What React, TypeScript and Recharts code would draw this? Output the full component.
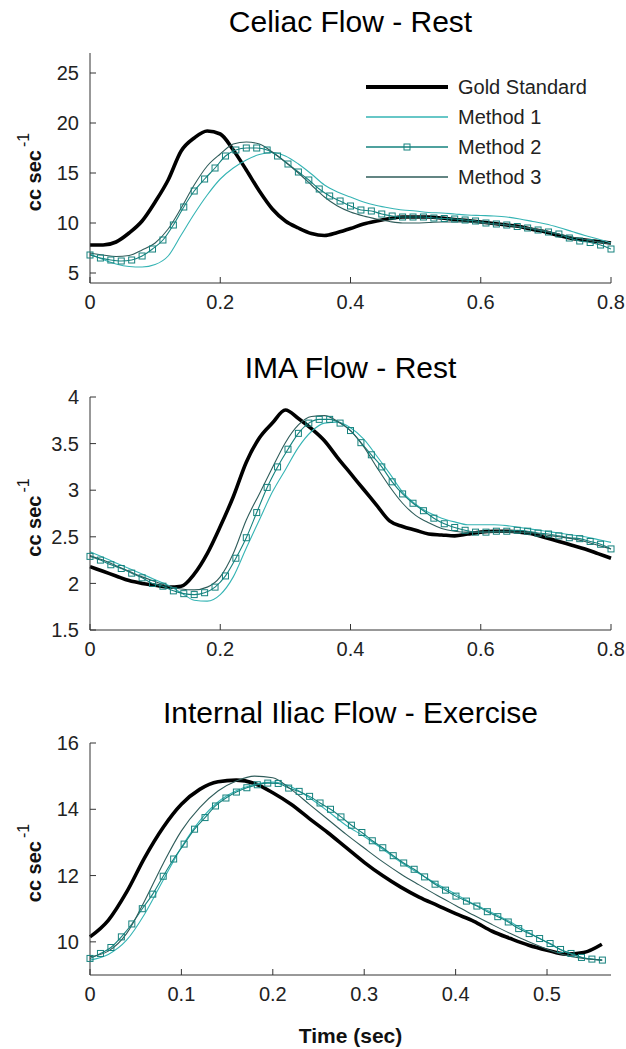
import { LineChart, Line, XAxis, YAxis, Legend, Label } from "recharts";

const FONT = '"Liberation Sans", Arial, Helvetica, sans-serif';

// evenly sampled time base (sec)
const sampleTimes = (count: number, step: number) =>
  Array.from({ length: count }, (_, i) => Math.round(i * step * 100000) / 100000);

const seriesNames = ["Gold Standard", "Method 1", "Method 2", "Method 3"];

// ---- Celiac flow, rest ----
const celiacLineT = sampleTimes(41, 0.02);
const celiacMarkT = sampleTimes(51, 0.016);
const celiacGold = [
  7.8, 7.8, 8.1, 9.0, 10.2, 12.1, 14.3, 17.2, 18.5, 19.2, 18.9, 17.3, 15.3, 13.2, 11.4, 10.2, 9.5, 8.95, 8.75,
  9.05, 9.45, 9.9, 10.2, 10.45, 10.6, 10.6, 10.6, 10.5, 10.35, 10.25, 10.1, 9.95, 9.8, 9.65, 9.35, 9.1, 8.75,
  8.45, 8.3, 8.15, 8.0,
];
const celiacM1 = [
  6.9, 6.35, 5.9, 5.65, 5.6, 5.85, 6.7, 8.8, 10.9, 12.8, 14.4, 15.5, 16.3, 16.85, 17.05, 16.7, 15.9, 14.9, 13.8,
  13.1, 12.6, 12.1, 11.75, 11.5, 11.3, 11.2, 11.05, 11.0, 10.9, 10.8, 10.75, 10.7, 10.6, 10.4, 10.15, 9.9, 9.55,
  9.15, 8.75, 8.4, 8.0,
];
const celiacM2 = [
  6.8, 6.5, 6.3, 6.2, 6.3, 6.7, 7.4, 8.3, 9.8, 11.6, 13.2, 14.4, 15.5, 16.7, 17.3, 17.5, 17.5, 17.3, 16.7, 15.9,
  15.1, 14.3, 13.4, 12.7, 12.2, 11.7, 11.3, 11.2, 10.9, 10.7, 10.6, 10.6, 10.6, 10.5, 10.45, 10.4, 10.3, 10.2,
  10.0, 9.9, 9.8, 9.65, 9.5, 9.3, 9.1, 8.9, 8.5, 8.2, 8.05, 7.8, 7.4,
];
const celiacM3 = [
  7.0, 6.8, 6.65, 6.75, 7.3, 8.0, 9.4, 11.5, 13.8, 15.7, 16.9, 17.9, 18.1, 17.9, 17.1, 16.1, 15.0, 13.8, 12.6,
  11.7, 11.1, 10.7, 10.4, 10.15, 10.0, 10.0, 10.05, 10.1, 10.1, 10.1, 10.0, 9.9, 9.8, 9.6, 9.45, 9.2, 8.9, 8.6,
  8.35, 8.1, 7.9,
];

// ---- IMA flow, rest ----
const imaLineT = sampleTimes(41, 0.02);
const imaMarkT = sampleTimes(51, 0.016);
const imaGold = [
  2.18, 2.13, 2.08, 2.03, 2.0, 1.98, 1.96, 1.97, 2.1, 2.32, 2.61, 2.93, 3.3, 3.56, 3.72, 3.86, 3.77, 3.66, 3.53,
  3.35, 3.18, 3.01, 2.84, 2.67, 2.61, 2.57, 2.53, 2.52, 2.51, 2.53, 2.55, 2.56, 2.56, 2.55, 2.53, 2.49, 2.45,
  2.41, 2.37, 2.32, 2.27,
];
const imaM1 = [
  2.34, 2.28, 2.22, 2.16, 2.1, 2.04, 1.98, 1.9, 1.82, 1.81, 1.88, 2.07, 2.38, 2.68, 2.98, 3.22, 3.46, 3.63, 3.72,
  3.73, 3.67, 3.55, 3.37, 3.18, 2.98, 2.85, 2.76, 2.7, 2.66, 2.63, 2.63, 2.63, 2.62, 2.6, 2.58, 2.56, 2.54, 2.52,
  2.5, 2.47, 2.44,
];
const imaM2 = [
  2.29, 2.25, 2.2, 2.16, 2.11, 2.06, 2.0, 1.97, 1.92, 1.89, 1.88, 1.9, 1.96, 2.08, 2.27, 2.49, 2.76, 3.03, 3.25,
  3.44, 3.61, 3.72, 3.76, 3.76, 3.72, 3.64, 3.51, 3.38, 3.25, 3.09, 2.96, 2.86, 2.78, 2.7, 2.64, 2.6, 2.57, 2.55,
  2.55, 2.56, 2.56, 2.57, 2.56, 2.54, 2.53, 2.51, 2.49, 2.48, 2.45, 2.42, 2.37,
];
const imaM3 = [
  2.3, 2.25, 2.19, 2.13, 2.07, 2.02, 1.97, 1.94, 1.93, 1.96, 2.07, 2.32, 2.68, 2.96, 3.24, 3.51, 3.7, 3.79, 3.8,
  3.74, 3.64, 3.47, 3.25, 3.04, 2.86, 2.73, 2.65, 2.59, 2.56, 2.55, 2.55, 2.55, 2.55, 2.55, 2.54, 2.52, 2.5, 2.48,
  2.45, 2.41, 2.37,
];

// ---- Internal iliac flow, exercise ----
const iliacLineT = sampleTimes(29, 0.02);
const iliacMarkT = sampleTimes(50, 0.01144);
const iliacGold = [
  10.15, 10.65, 11.5, 12.55, 13.45, 14.15, 14.6, 14.83, 14.88, 14.78, 14.5, 14.15, 13.72, 13.3, 12.85, 12.4, 12.0,
  11.65, 11.35, 11.1, 10.85, 10.62, 10.32, 10.1, 9.9, 9.75, 9.63, 9.68, 9.93,
];
const iliacM1 = [
  9.45, 9.62, 10.05, 10.85, 11.86, 12.85, 13.65, 14.22, 14.56, 14.75, 14.82, 14.68, 14.35, 13.95, 13.52, 13.18,
  12.8, 12.4, 12.06, 11.74, 11.44, 11.14, 10.88, 10.6, 10.28, 9.98, 9.7, 9.52, 9.45,
];
const iliacM2 = [
  9.5, 9.65, 9.83, 10.15, 10.54, 11.0, 11.44, 11.98, 12.5, 12.95, 13.4, 13.75, 14.1, 14.34, 14.52, 14.65, 14.74,
  14.79, 14.78, 14.64, 14.54, 14.39, 14.19, 14.0, 13.77, 13.52, 13.3, 13.05, 12.84, 12.6, 12.38, 12.19, 11.96,
  11.74, 11.56, 11.38, 11.23, 11.08, 10.91, 10.76, 10.6, 10.4, 10.25, 10.1, 9.95, 9.77, 9.65, 9.53, 9.48, 9.45,
];
const iliacM3 = [
  9.55, 9.72, 10.25, 11.25, 12.36, 13.35, 14.05, 14.55, 14.85, 15.0, 14.95, 14.6, 14.15, 13.7, 13.25, 12.83,
  12.42, 12.05, 11.72, 11.4, 11.1, 10.8, 10.52, 10.25, 10.0, 9.78, 9.6, 9.5, 9.45,
];

const restXTicks = [0, 0.2, 0.4, 0.6, 0.8];
const exerciseXTicks = [0, 0.1, 0.2, 0.3, 0.4, 0.5];
const celiacYTicks = [5, 10, 15, 20, 25];
const imaYTicks = [1.5, 2, 2.5, 3, 3.5, 4];
const iliacYTicks = [10, 12, 14, 16];

const COLORS = ["#000000", "#35b4b4", "#15827e", "#2f5c5a"];
const WIDTHS = [3.6, 1.1, 1.1, 1.1];
const AXIS = "#333";
const TICK_TEXT = { fill: "#222", fontSize: 20, fontFamily: FONT };

const rows = (times: number[], values: number[]) => times.map((t, i) => ({ t, v: values[i] }));

const SquareDot = (props: any) => {
  const { cx, cy, index } = props;
  if (cx == null || cy == null) return <g key={`sq-${index}`} />;
  return (
    <rect
      key={`sq-${index}`}
      x={cx - 3}
      y={cy - 3}
      width={6}
      height={6}
      fill="none"
      stroke={COLORS[2]}
      strokeWidth={1}
    />
  );
};

const UnitsLabel = (props: any) => {
  const vb = props.viewBox || {};
  const cx = 41;
  const cy = vb.y + vb.height / 2 + 4;
  return (
    <text
      transform={`rotate(-90 ${cx} ${cy})`}
      x={cx}
      y={cy}
      textAnchor="middle"
      fontFamily={FONT}
      fontSize={20}
      fontWeight="bold"
      fill="#111"
    >
      cc sec
      <tspan fontSize={16} fontWeight="normal" dx={3} dy={-12}>
        -1
      </tspan>
    </text>
  );
};

const TimeLabel = (props: any) => {
  const vb = props.viewBox || {};
  return (
    <text
      x={vb.x + vb.width / 2}
      y={vb.y + 68}
      textAnchor="middle"
      fontFamily={FONT}
      fontSize={21}
      fontWeight="bold"
      fill="#111"
    >
      Time (sec)
    </text>
  );
};

const LegendBox = () => (
  <div style={{ fontFamily: FONT, fontSize: 20, color: "#222" }}>
    {seriesNames.map((name, i) => (
      <div key={name} style={{ display: "flex", alignItems: "center", height: 30 }}>
        <svg width={82} height={30}>
          <line x1={0} x2={82} y1={15} y2={15} stroke={COLORS[i]} strokeWidth={i === 0 ? 4 : 1.3} />
          {i === 2 && <rect x={38} y={12} width={6} height={6} fill="none" stroke={COLORS[2]} />}
        </svg>
        <span style={{ marginLeft: 10, whiteSpace: "nowrap" }}>{name}</span>
      </div>
    ))}
  </div>
);

type PanelProps = {
  title: string;
  top: number;
  height: number;
  titleBaseline: number;
  plotTop: number;
  xAxisHeight: number;
  xDomain: [number, number];
  xTicks: number[];
  yDomain: [number, number];
  yTicks: number[];
  lineT: number[];
  markT: number[];
  gold: number[];
  m1: number[];
  m2: number[];
  m3: number[];
  legend?: boolean;
  xLabel?: boolean;
};

function FlowPanel(p: PanelProps) {
  return (
    <div style={{ position: "absolute", left: 0, top: p.top, width: 626, height: p.height }}>
      <div
        style={{
          position: "absolute",
          left: 90,
          width: 521,
          top: p.titleBaseline - 25.4,
          lineHeight: "30px",
          fontSize: 30,
          fontFamily: FONT,
          textAlign: "center",
          color: "#000",
          whiteSpace: "nowrap",
          zIndex: 2,
        }}
      >
        {p.title}
      </div>
      <LineChart width={626} height={p.height} margin={{ top: p.plotTop, right: 15, bottom: 0, left: 0 }}>
        <XAxis
          type="number"
          dataKey="t"
          domain={p.xDomain}
          ticks={p.xTicks}
          interval={0}
          height={p.xAxisHeight}
          tickSize={-6}
          tickMargin={18}
          tick={TICK_TEXT}
          axisLine={{ stroke: AXIS }}
          tickLine={{ stroke: AXIS }}
        >
          {p.xLabel && <Label content={TimeLabel} />}
        </XAxis>
        <YAxis
          type="number"
          domain={p.yDomain}
          ticks={p.yTicks}
          interval={0}
          width={90}
          tickSize={-6}
          tickMargin={17}
          tick={TICK_TEXT}
          axisLine={{ stroke: AXIS }}
          tickLine={{ stroke: AXIS }}
        >
          <Label content={UnitsLabel} />
        </YAxis>
        {p.legend && (
          <Legend
            layout="vertical"
            align="center"
            verticalAlign="middle"
            wrapperStyle={{ left: 366, top: 72, width: "auto" }}
            content={LegendBox}
          />
        )}
        <Line
          data={rows(p.lineT, p.gold)}
          dataKey="v"
          name={seriesNames[0]}
          type="monotone"
          stroke={COLORS[0]}
          strokeWidth={WIDTHS[0]}
          strokeLinejoin="round"
          dot={false}
          isAnimationActive={false}
        />
        <Line
          data={rows(p.lineT, p.m1)}
          dataKey="v"
          name={seriesNames[1]}
          type="monotone"
          stroke={COLORS[1]}
          strokeWidth={WIDTHS[1]}
          dot={false}
          isAnimationActive={false}
        />
        <Line
          data={rows(p.markT, p.m2)}
          dataKey="v"
          name={seriesNames[2]}
          type="monotone"
          stroke={COLORS[2]}
          strokeWidth={WIDTHS[2]}
          dot={SquareDot}
          isAnimationActive={false}
        />
        <Line
          data={rows(p.lineT, p.m3)}
          dataKey="v"
          name={seriesNames[3]}
          type="monotone"
          stroke={COLORS[3]}
          strokeWidth={WIDTHS[3]}
          dot={false}
          isAnimationActive={false}
        />
      </LineChart>
    </div>
  );
}

export default function App() {
  return (
    <div
      style={{
        position: "absolute",
        left: 0,
        top: 0,
        width: 626,
        height: 1049,
        background: "#fff",
        overflow: "hidden",
      }}
    >
      <FlowPanel
        title="Celiac Flow - Rest"
        top={0}
        height={330}
        titleBaseline={32}
        plotTop={53}
        xAxisHeight={47}
        xDomain={[0, 0.8]}
        xTicks={restXTicks}
        yDomain={[4, 27]}
        yTicks={celiacYTicks}
        lineT={celiacLineT}
        markT={celiacMarkT}
        gold={celiacGold}
        m1={celiacM1}
        m2={celiacM2}
        m3={celiacM3}
        legend
      />
      <FlowPanel
        title="IMA Flow - Rest"
        top={330}
        height={330}
        titleBaseline={48}
        plotTop={67}
        xAxisHeight={30}
        xDomain={[0, 0.8]}
        xTicks={restXTicks}
        yDomain={[1.5, 4]}
        yTicks={imaYTicks}
        lineT={imaLineT}
        markT={imaMarkT}
        gold={imaGold}
        m1={imaM1}
        m2={imaM2}
        m3={imaM3}
      />
      <FlowPanel
        title="Internal Iliac Flow - Exercise"
        top={660}
        height={389}
        titleBaseline={63}
        plotTop={83}
        xAxisHeight={74}
        xDomain={[0, 0.57]}
        xTicks={exerciseXTicks}
        yDomain={[9, 16]}
        yTicks={iliacYTicks}
        lineT={iliacLineT}
        markT={iliacMarkT}
        gold={iliacGold}
        m1={iliacM1}
        m2={iliacM2}
        m3={iliacM3}
        xLabel
      />
    </div>
  );
}
